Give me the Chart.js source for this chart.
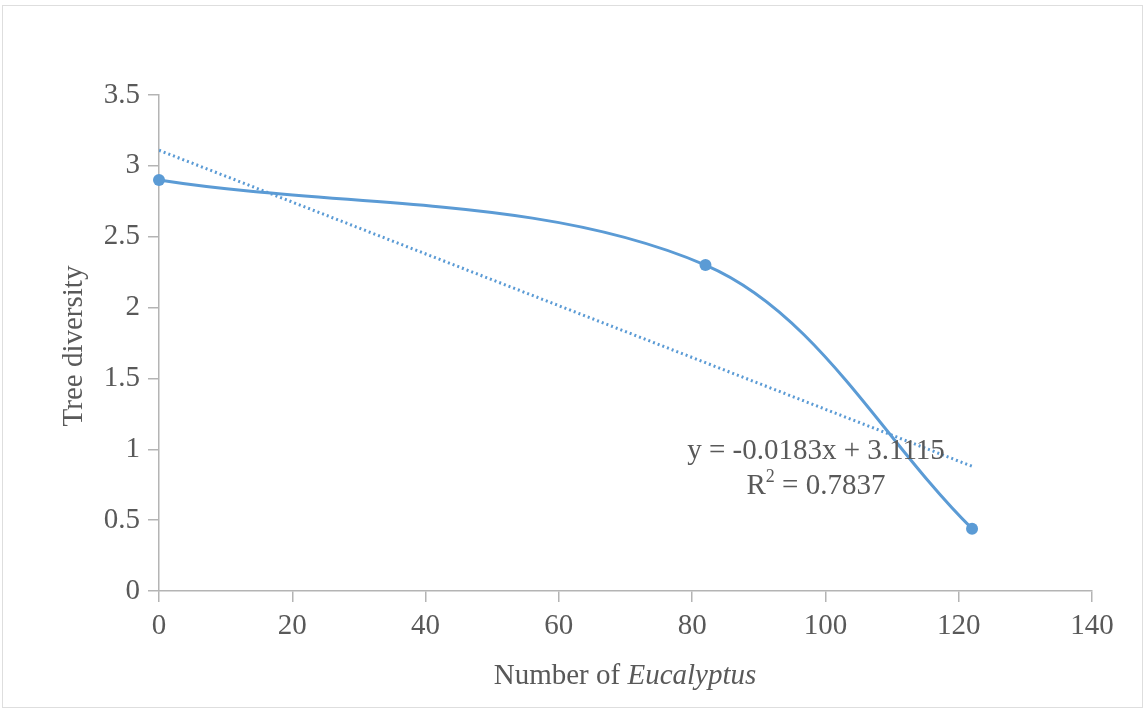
<!DOCTYPE html>
<html lang="en">
<head>
  <meta charset="UTF-8">
  <title>Tree diversity vs Eucalyptus</title>
  <script src="https://cdn.jsdelivr.net/npm/chart.js"></script>
  <style>
    body {
      margin: 0;
      background: #fff;
    }

    #frame {
      position: absolute;
      left: 2px;
      top: 5px;
      width: 1141px;
      height: 703px;
      border: 1px solid #dedede;
      box-sizing: border-box;
    }

    #chart-container {
      position: absolute;
      left: 0;
      top: 0;
      width: 1147px;
      height: 713px;
    }
  </style>
</head>
<body>
  <div id="frame"></div>
  <div id="chart-container">
    <canvas id="myChart"></canvas>
  </div>

  <script>
    // observed points
    const eucalyptus = [0, 82, 122];
    const diversity = [2.9, 2.3, 0.44];

    // linear trendline ends
    const trendX = [0, 122];
    const trendY = [3.11, 0.88];

    const xTicks = [0, 20, 40, 60, 80, 100, 120, 140];
    const yTicks = [0, 0.5, 1, 1.5, 2, 2.5, 3, 3.5];

    const eqText = 'y = -0.0183x + 3.1115';
    const r2Text = '0.7837';

    const blue = '#5b9bd5';
    const textGrey = '#595959';
    const axisGrey = '#b4b4b4';
    const serif = "'Liberation Serif', 'Times New Roman', serif";
    const fs = 29;

    const labelsPlugin = {
      id: 'labels',
      afterDraw(chart) {
        const c = chart.ctx;
        c.save();
        c.fillStyle = textGrey;
        c.textBaseline = 'middle';

        // y title
        c.save();
        c.translate(74, 346);
        c.rotate(-Math.PI / 2);
        c.textAlign = 'center';
        c.font = fs + 'px ' + serif;
        c.fillText('Tree diversity', 0, 0);
        c.restore();

        // x title with italic part
        c.font = fs + 'px ' + serif;
        const a = 'Number of ';
        const wa = c.measureText(a).width;
        c.font = 'italic ' + fs + 'px ' + serif;
        const b = 'Eucalyptus';
        const wb = c.measureText(b).width;
        let x0 = 625 - (wa + wb) / 2;
        c.textAlign = 'left';
        c.font = fs + 'px ' + serif;
        c.fillText(a, x0, 676);
        c.font = 'italic ' + fs + 'px ' + serif;
        c.fillText(b, x0 + wa, 676);

        // trendline equation
        c.font = fs + 'px ' + serif;
        c.textAlign = 'center';
        c.fillText(eqText, 816, 451);
        const r = 'R';
        const rest = ' = ' + r2Text;
        const wr = c.measureText(r).width;
        c.font = '18px ' + serif;
        const w2 = c.measureText('2').width;
        c.font = fs + 'px ' + serif;
        const wrest = c.measureText(rest).width;
        let rx = 816 - (wr + w2 + wrest) / 2;
        c.textAlign = 'left';
        c.fillText(r, rx, 486);
        c.font = '18px ' + serif;
        c.fillText('2', rx + wr, 477);
        c.font = fs + 'px ' + serif;
        c.fillText(rest, rx + wr + w2, 486);
        c.restore();
      }
    };

    const ctx = document.getElementById('myChart').getContext('2d');
    const myChart = new Chart(ctx, {
      type: 'scatter',
      data: {
        datasets: [
          {
            label: 'Tree diversity',
            data: eucalyptus.map((x, i) => ({ x: x, y: diversity[i] })),
            showLine: true,
            tension: 0.34,
            clip: false,
            borderColor: blue,
            backgroundColor: blue,
            borderWidth: 3,
            pointRadius: 6,
            pointBorderWidth: 0
          },
          {
            label: 'Linear',
            data: trendX.map((x, i) => ({ x: x, y: trendY[i] })),
            showLine: true,
            borderColor: blue,
            borderWidth: 3,
            borderDash: [2, 3],
            pointRadius: 0
          }
        ]
      },
      options: {
        responsive: true,
        maintainAspectRatio: false,
        animation: false,
        layout: {
          padding: { top: 95, right: 55, left: 0, bottom: 0 }
        },
        plugins: {
          legend: { display: false },
          tooltip: { enabled: false }
        },
        scales: {
          x: {
            type: 'linear',
            min: 0,
            max: 140,
            afterFit(scale) { scale.height = 122; },
            afterBuildTicks(scale) { scale.ticks = xTicks.map(v => ({ value: v })); },
            border: { color: axisGrey, width: 1.5 },
            grid: { drawOnChartArea: false, color: axisGrey, tickLength: 11, lineWidth: 1.5 },
            ticks: {
              color: textGrey,
              padding: 7,
              font: { family: serif, size: fs }
            }
          },
          y: {
            type: 'linear',
            min: 0,
            max: 3.5,
            afterFit(scale) { scale.width = 159; },
            afterBuildTicks(scale) { scale.ticks = yTicks.map(v => ({ value: v })); },
            border: { color: axisGrey, width: 1.5 },
            grid: { drawOnChartArea: false, color: axisGrey, tickLength: 11, lineWidth: 1.5 },
            ticks: {
              color: textGrey,
              padding: 8,
              callback: v => String(v),
              font: { family: serif, size: fs }
            }
          }
        }
      },
      plugins: [labelsPlugin]
    });
  </script>
</body>
</html>
